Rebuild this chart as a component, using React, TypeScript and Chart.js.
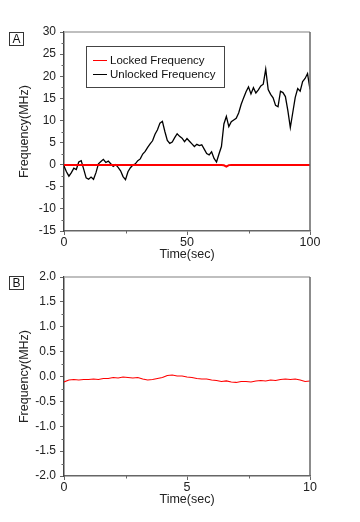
import React, { useEffect, useRef } from "react";
import { Chart, registerables } from "chart.js";

Chart.register(...registerables);

// ---------- Panel A data ----------
const timeA = [
  0, 1, 2, 3, 4, 5, 6, 7, 8, 9, 10, 11, 12, 13, 14, 15, 16, 17, 18, 19, 20,
  21, 22, 23, 24, 25, 26, 27, 28, 29, 30, 31, 32, 33, 34, 35, 36, 37, 38, 39, 40,
  41, 42, 43, 44, 45, 46, 47, 48, 49, 50, 51, 52, 53, 54, 55, 56, 57, 58, 59, 60,
  61, 62, 63, 64, 65, 66, 67, 68, 69, 70, 71, 72, 73, 74, 75, 76, 77, 78, 79, 80,
  81, 82, 83, 84, 85, 86, 87, 88, 89, 90, 91, 92, 93, 94, 95, 96, 97, 98, 99, 100,
];
const unlockedA = [
  -0.3, -1.6, -2.6, -1.8, -0.8, -1.1, 0.6, 0.9, -1.0, -3.0, -3.3, -2.8, -3.3, -1.8, 0.2, 0.7, 1.2, 0.5, 0.8, 0.2, -0.4,
  0.0, -0.6, -1.4, -2.7, -3.4, -1.6, -0.7, -0.1, 0.2, 0.9, 1.3, 2.4, 3.0, 3.9, 4.7, 5.4, 6.9, 7.9, 9.4, 9.8,
  7.5, 5.5, 4.8, 5.1, 6.1, 7.0, 6.4, 6.0, 5.2, 5.9, 5.3, 4.7, 4.1, 4.6, 4.3, 4.5, 3.5, 2.5, 2.2, 2.9,
  1.4, 0.6, 2.4, 4.1, 9.2, 10.9, 8.6, 9.7, 10.1, 10.5, 11.7, 13.6, 15.1, 16.5, 17.6, 16.0, 17.4, 16.2, 16.9, 17.8,
  18.2, 21.6, 17.0, 15.9, 15.1, 13.4, 13.1, 16.6, 16.3, 15.4, 12.2, 8.4, 11.8, 15.2, 17.2, 16.6, 18.8, 19.5, 20.6, 17.0,
];
const lockedTimeA = [
  0, 2, 4, 6, 8, 10, 12, 14, 16, 18, 20, 22, 24, 26, 28, 30, 32, 34, 36, 38, 40,
  42, 44, 46, 48, 50, 52, 54, 56, 58, 60, 62, 64, 65, 66, 67, 68, 70, 72, 74, 76, 78, 80,
  82, 84, 86, 88, 90, 92, 94, 96, 98, 100,
];
const lockedA = [
  -0.1, -0.05, -0.1, -0.05, -0.1, -0.08, -0.05, -0.1, -0.05, -0.08, -0.1, -0.05, -0.1, -0.06, -0.05, -0.1, -0.06, -0.05, -0.1, -0.06, -0.05,
  -0.1, -0.07, -0.05, -0.1, -0.06, -0.05, -0.1, -0.05, -0.08, -0.1, -0.06, -0.1, -0.15, -0.45, -0.1, -0.05, -0.08, -0.1, -0.05, -0.1, -0.06, -0.05,
  -0.1, -0.06, -0.05, -0.1, -0.06, -0.05, -0.1, -0.08, -0.05, -0.1,
];
const xTicksA = [0, 50, 100];
const xMinorA = [25, 75];
const yRangeA = [-15, 30];
const yStepA = 5;
const yMinorA = [-12.5, -7.5, -2.5, 2.5, 7.5, 12.5, 17.5, 22.5, 27.5];

// ---------- Panel B data ----------
const timeB = [
  0, 0.2, 0.4, 0.6, 0.8, 1.0, 1.2, 1.4, 1.6, 1.8, 2.0, 2.2, 2.4, 2.6, 2.8, 3.0, 3.2, 3.4, 3.6, 3.8,
  4.0, 4.2, 4.4, 4.6, 4.8, 5.0, 5.2, 5.4, 5.6, 5.8, 6.0, 6.2, 6.4, 6.6, 6.8, 7.0, 7.2, 7.4, 7.6, 7.8,
  8.0, 8.2, 8.4, 8.6, 8.8, 9.0, 9.2, 9.4, 9.6, 9.8, 10.0,
];
const lockedB = [
  -0.11, -0.07, -0.06, -0.07, -0.06, -0.06, -0.05, -0.06, -0.04, -0.04, -0.02, -0.03, -0.01, -0.02, -0.03, -0.02, -0.05, -0.07, -0.06, -0.04,
  -0.02, 0.02, 0.03, 0.01, 0.01, -0.01, -0.02, -0.04, -0.05, -0.05, -0.07, -0.08, -0.1, -0.09, -0.11, -0.12, -0.1, -0.1, -0.11, -0.09,
  -0.08, -0.09, -0.07, -0.08, -0.06, -0.05, -0.06, -0.05, -0.07, -0.1, -0.09,
];
const xTicksB = [0, 5, 10];
const xMinorB = [2.5, 7.5];
const yRangeB = [-2, 2];
const yStepB = 0.5;
const yMinorB = [-1.75, -1.25, -0.75, -0.25, 0.25, 0.75, 1.25, 1.75];

const legendLabels = ["Locked Frequency", "Unlocked Frequency"];
const xTitle = "Time(sec)";
const yTitle = "Frequency(MHz)";

const FONT = '"Liberation Sans", Arial, sans-serif';
const AXIS = "#666";

const framePlugin = {
  id: "frame",
  afterDraw(chart: any, _args: any, opts: any) {
    const { ctx, chartArea, scales } = chart;
    const { left, right, top, bottom } = chartArea;
    ctx.save();
    ctx.lineWidth = 1.5;
    ctx.strokeStyle = "#aaa";
    ctx.beginPath();
    ctx.moveTo(left, top);
    ctx.lineTo(right, top);
    ctx.stroke();
    ctx.strokeStyle = AXIS;
    ctx.beginPath();
    ctx.moveTo(right, top);
    ctx.lineTo(right, bottom);
    ctx.stroke();
    ctx.lineWidth = 1;
    ctx.strokeStyle = AXIS;
    for (const v of opts.xMinor) {
      const px = Math.round(scales.x.getPixelForValue(v)) + 0.5;
      ctx.beginPath();
      ctx.moveTo(px, bottom);
      ctx.lineTo(px, bottom + 2.5);
      ctx.stroke();
    }
    for (const v of opts.yMinor) {
      const py = Math.round(scales.y.getPixelForValue(v)) + 0.5;
      ctx.beginPath();
      ctx.moveTo(left - 2.5, py);
      ctx.lineTo(left, py);
      ctx.stroke();
    }
    ctx.restore();
  },
};

function makeConfig(
  datasets: any[],
  xTicks: number[],
  xMinor: number[],
  yRange: number[],
  yStep: number,
  yMinor: number[],
  yDecimals: number
): any {
  return {
    type: "line",
    data: { datasets },
    plugins: [framePlugin],
    options: {
      responsive: false,
      animation: false,
      devicePixelRatio: 1,
      layout: { padding: { left: 0, top: 32, right: 50, bottom: 0 } },
      plugins: {
        legend: { display: false },
        tooltip: { enabled: false },
        frame: { xMinor, yMinor },
      },
      elements: { point: { radius: 0 }, line: { tension: 0 } },
      scales: {
        x: {
          type: "linear",
          min: xTicks[0],
          max: xTicks[xTicks.length - 1],
          afterBuildTicks: (s: any) => {
            s.ticks = xTicks.map((v) => ({ value: v }));
          },
          afterFit: (s: any) => {
            s.height = 31;
          },
          ticks: {
            color: "#222",
            font: { family: FONT, size: 12.5 },
            padding: 0,
            maxRotation: 0,
            callback: (v: number) => String(v),
          },
          grid: {
            drawOnChartArea: false,
            drawTicks: true,
            tickLength: 4,
            tickColor: AXIS,
            color: AXIS,
          },
          border: { color: AXIS, width: 1.5 },
          title: {
            display: true,
            text: xTitle,
            color: "#222",
            font: { family: FONT, size: 12.5 },
            padding: { top: 0, bottom: 0 },
          },
        },
        y: {
          type: "linear",
          min: yRange[0],
          max: yRange[1],
          ticks: {
            stepSize: yStep,
            color: "#222",
            font: { family: FONT, size: 12 },
            padding: 4,
            callback: (v: number) => Number(v).toFixed(yDecimals),
          },
          afterFit: (s: any) => {
            s.width = 64;
          },
          grid: {
            drawOnChartArea: false,
            drawTicks: true,
            tickLength: 4,
            tickColor: AXIS,
            color: AXIS,
          },
          border: { color: "#444", width: 1.5 },
          title: {
            display: true,
            text: yTitle,
            color: "#222",
            font: { family: FONT, size: 12.5 },
            padding: { top: 17, bottom: 0 },
          },
        },
      },
    },
  };
}

const labelBox: React.CSSProperties = {
  position: "absolute",
  left: 9,
  width: 13,
  height: 12,
  border: "1px solid #333",
  fontSize: 12,
  lineHeight: "12px",
  textAlign: "center",
  color: "#111",
};

export default function App() {
  const refA = useRef<HTMLCanvasElement>(null);
  const refB = useRef<HTMLCanvasElement>(null);

  useEffect(() => {
    const chartA = new Chart(
      refA.current!,
      makeConfig(
        [
          {
            label: legendLabels[0],
            data: lockedTimeA.map((t, i) => ({ x: t, y: lockedA[i] })),
            borderColor: "#ff0000",
            borderWidth: 2,
          },
          {
            label: legendLabels[1],
            data: timeA.map((t, i) => ({ x: t, y: unlockedA[i] })),
            borderColor: "#000000",
            borderWidth: 1.3,
          },
        ],
        xTicksA,
        xMinorA,
        yRangeA,
        yStepA,
        yMinorA,
        0
      )
    );
    const chartB = new Chart(
      refB.current!,
      makeConfig(
        [
          {
            label: legendLabels[0],
            data: timeB.map((t, i) => ({ x: t, y: lockedB[i] })),
            borderColor: "#ff0000",
            borderWidth: 1.2,
          },
        ],
        xTicksB,
        xMinorB,
        yRangeB,
        yStepB,
        yMinorB,
        1
      )
    );
    return () => {
      chartA.destroy();
      chartB.destroy();
    };
  }, []);

  return (
    <div
      style={{
        position: "absolute",
        left: 0,
        top: 0,
        width: 360,
        height: 522,
        background: "#fff",
        fontFamily: FONT,
        overflow: "hidden",
      }}
    >
      <canvas
        ref={refA}
        width={360}
        height={262}
        style={{ position: "absolute", left: 0, top: 0, width: 360, height: 262 }}
      />
      <canvas
        ref={refB}
        width={360}
        height={262}
        style={{ position: "absolute", left: 0, top: 245, width: 360, height: 262 }}
      />
      <div style={{ ...labelBox, top: 32 }}>A</div>
      <div style={{ ...labelBox, top: 276 }}>B</div>
      <div
        style={{
          position: "absolute",
          left: 86,
          top: 46,
          width: 137,
          height: 40,
          border: "1px solid #444",
          fontSize: 11.5,
          color: "#111",
        }}
      >
        {legendLabels.map((lab, i) => (
          <div
            key={lab}
            style={{
              position: "absolute",
              left: 6,
              top: 6 + i * 14,
              height: 14,
              display: "flex",
              alignItems: "center",
              whiteSpace: "nowrap",
            }}
          >
            <span
              style={{
                display: "inline-block",
                width: 14,
                height: 0,
                borderTop: `1.5px solid ${i === 0 ? "#ff0000" : "#000"}`,
                marginRight: 3,
              }}
            />
            <span>{lab}</span>
          </div>
        ))}
      </div>
    </div>
  );
}
